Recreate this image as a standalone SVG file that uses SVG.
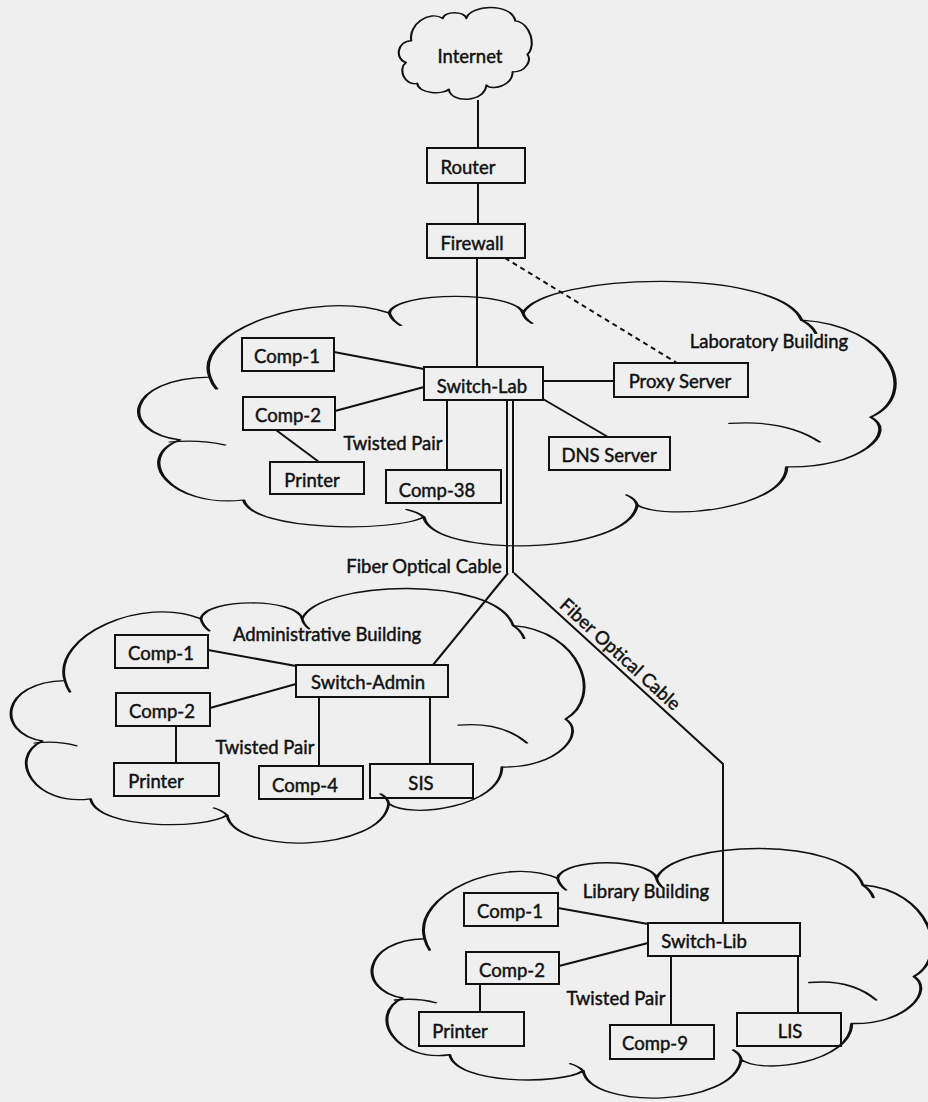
<svg xmlns="http://www.w3.org/2000/svg" width="928" height="1102" viewBox="0 0 928 1102">
<style>
.bg{fill:#efefef}
.cloud{fill:none;stroke:#111;stroke-width:2.2;stroke-linejoin:round;stroke-linecap:round}
.box{fill:none;stroke:#111;stroke-width:2}
.ln{fill:none;stroke:#111;stroke-width:2}
.dash{fill:none;stroke:#111;stroke-width:2;stroke-dasharray:5 4}
text{font-family:Lato,"Open Sans","Liberation Sans",sans-serif;font-size:18.5px;fill:#111;stroke:#111;stroke-width:0.45;text-anchor:middle}
</style>
<defs>
<path id="cloudOutline" d="M 93,355 C 70,180 230,20 332,113 C 340,30 500,30 510,113 C 540,-40 850,-60 881,140 C 1000,160 1040,420 973,506 C 1010,560 960,700 861,694 C 860,850 700,900 662,838 C 650,1030 390,1040 378,883 C 340,940 150,940 138,819 C 40,850 -10,660 53,592 C -30,560 -20,360 93,355 Z"/>
<path id="cloudTails" d="M 93,355 Q 96,380 102,400 M 332,113 Q 335,140 347,160 M 510,113 Q 512,135 522,152 M 881,140 Q 895,160 900,190 M 785,530 Q 860,515 905,600 M 662,838 Q 660,815 648,800 M 378,883 Q 370,865 355,855 M 40,600 Q 80,590 113,611"/>
</defs>
<rect class="bg" x="0" y="0" width="928" height="1102"/>

<g id="cloud-internet"><use href="#cloudOutline" class="cloud" transform="translate(399,8) scale(0.132,0.092)" style="stroke-width:16"/></g>
<g id="cloud-lab" transform="translate(140,283) scale(0.751,0.265)"><use href="#cloudOutline" class="cloud" style="stroke-width:4.5"/><use href="#cloudTails" class="cloud" style="stroke-width:4.5"/></g>
<g id="cloud-admin" transform="translate(12,590) scale(0.569,0.255)"><use href="#cloudOutline" class="cloud" style="stroke-width:5"/><use href="#cloudTails" class="cloud" style="stroke-width:5"/></g>
<g id="cloud-library" transform="translate(373,850) scale(0.556,0.25)"><use href="#cloudOutline" class="cloud" style="stroke-width:5.5"/><use href="#cloudTails" class="cloud" style="stroke-width:5.5"/></g>

<g id="connectors">
<line class="ln" x1="478" y1="100" x2="478" y2="148"/>
<line class="ln" x1="478" y1="183" x2="478" y2="224"/>
<line class="ln" x1="477" y1="258" x2="477" y2="367"/>
<line class="dash" x1="505" y1="258" x2="677" y2="363"/>
<line class="ln" x1="334" y1="352" x2="424" y2="369"/>
<line class="ln" x1="335" y1="411" x2="424" y2="387"/>
<line class="ln" x1="543" y1="381" x2="614" y2="381"/>
<line class="ln" x1="543" y1="399" x2="608" y2="437"/>
<line class="ln" x1="276" y1="430" x2="319" y2="462"/>
<line class="ln" x1="447" y1="400" x2="447" y2="470"/>
<line class="ln" x1="507" y1="400" x2="507" y2="573"/>
<line class="ln" x1="513" y1="400" x2="513" y2="573"/>
<line class="ln" x1="508" y1="573" x2="433" y2="665"/>
<polyline class="ln" points="514,573 723,764 723,923"/>
<line class="ln" x1="208" y1="650" x2="296" y2="666"/>
<line class="ln" x1="210" y1="708" x2="296" y2="684"/>
<line class="ln" x1="176" y1="726" x2="176" y2="763"/>
<line class="ln" x1="319" y1="697" x2="319" y2="766"/>
<line class="ln" x1="430" y1="697" x2="430" y2="764"/>
<line class="ln" x1="558" y1="908" x2="648" y2="924"/>
<line class="ln" x1="559" y1="966" x2="648" y2="943"/>
<line class="ln" x1="480" y1="984" x2="480" y2="1012"/>
<line class="ln" x1="671" y1="956" x2="671" y2="1025"/>
<line class="ln" x1="798" y1="956" x2="798" y2="1013"/>
</g>

<g id="labels">
<text x="393" y="450">Twisted Pair</text>
<text x="769" y="348">Laboratory Building</text>
<text x="327" y="641">Administrative Building</text>
<text x="265" y="754">Twisted Pair</text>
<text x="424" y="573">Fiber Optical Cable</text>
<text transform="translate(616,659) rotate(42.4)">Fiber Optical Cable</text>
<text x="646" y="898">Library Building</text>
<text x="616" y="1005">Twisted Pair</text>
</g>

<g id="internet"><text x="470" y="63">Internet</text></g>
<g id="router"><rect class="box" x="427" y="148" width="98" height="35"/><text x="468" y="174">Router</text></g>
<g id="firewall"><rect class="box" x="427" y="224" width="98" height="34"/><text x="472" y="250">Firewall</text></g>

<g id="lab-comp1"><rect class="box" x="242" y="338" width="92" height="33"/><text x="287" y="363">Comp-1</text></g>
<g id="switch-lab"><rect class="box" x="424" y="367" width="119" height="33"/><text x="482" y="393">Switch-Lab</text></g>
<g id="proxy-server"><rect class="box" x="614" y="363" width="134" height="34"/><text x="680" y="388">Proxy Server</text></g>
<g id="lab-comp2"><rect class="box" x="243" y="397" width="92" height="33"/><text x="288" y="422">Comp-2</text></g>
<g id="lab-printer"><rect class="box" x="270" y="462" width="94" height="32"/><text x="312" y="487">Printer</text></g>
<g id="lab-comp38"><rect class="box" x="386" y="470" width="115" height="33"/><text x="437" y="497">Comp-38</text></g>
<g id="dns-server"><rect class="box" x="549" y="437" width="121" height="33"/><text x="609" y="462">DNS Server</text></g>

<g id="admin-comp1"><rect class="box" x="115" y="635" width="93" height="33"/><text x="161" y="660">Comp-1</text></g>
<g id="switch-admin"><rect class="box" x="296" y="665" width="152" height="32"/><text x="368" y="689">Switch-Admin</text></g>
<g id="admin-comp2"><rect class="box" x="116" y="693" width="94" height="33"/><text x="162" y="718">Comp-2</text></g>
<g id="admin-printer"><rect class="box" x="114" y="763" width="105" height="33"/><text x="156" y="788">Printer</text></g>
<g id="admin-comp4"><rect class="box" x="259" y="766" width="104" height="33"/><text x="305" y="792">Comp-4</text></g>
<g id="sis"><rect class="box" x="370" y="764" width="103" height="34"/><text x="421" y="790">SIS</text></g>

<g id="lib-comp1"><rect class="box" x="464" y="893" width="94" height="33"/><text x="510" y="918">Comp-1</text></g>
<g id="switch-lib"><rect class="box" x="648" y="923" width="152" height="33"/><text x="704" y="948">Switch-Lib</text></g>
<g id="lib-comp2"><rect class="box" x="466" y="952" width="93" height="32"/><text x="512" y="977">Comp-2</text></g>
<g id="lib-printer"><rect class="box" x="419" y="1012" width="105" height="34"/><text x="460" y="1038">Printer</text></g>
<g id="lib-comp9"><rect class="box" x="610" y="1025" width="104" height="34"/><text x="655" y="1050">Comp-9</text></g>
<g id="lis"><rect class="box" x="737" y="1013" width="104" height="33"/><text x="790" y="1038">LIS</text></g>
</svg>
